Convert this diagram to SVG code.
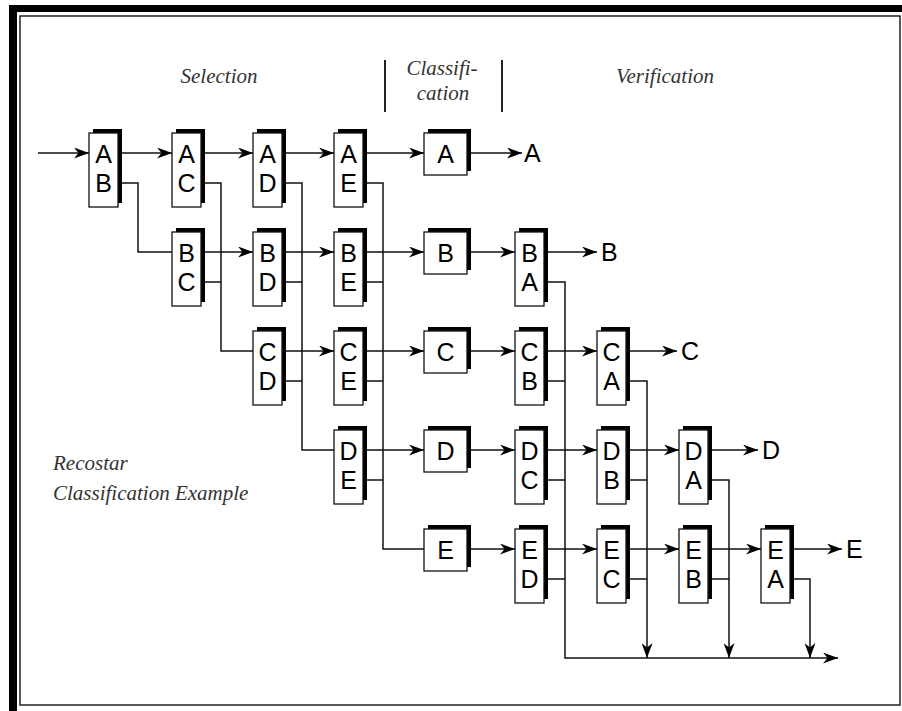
<svg xmlns="http://www.w3.org/2000/svg" width="902" height="711" viewBox="0 0 902 711">
<style>
.bk{fill:#000}
.fr{fill:#fff;stroke:#111;stroke-width:1.3}
.lt{font-family:"Liberation Sans",Arial,sans-serif;font-size:25px;fill:#000;text-anchor:middle}
.lb{font-family:"Liberation Sans",Arial,sans-serif;font-size:25px;fill:#000}
.hd{font-family:"Liberation Serif","Times New Roman",serif;font-style:italic;font-size:21px;fill:#333}
.c{fill:none;stroke:#111;stroke-width:1.5}
.a{marker-end:url(#ah)}
</style>
<defs>
<marker id="ah" markerUnits="userSpaceOnUse" markerWidth="15" markerHeight="11" refX="15" refY="5.5" orient="auto" viewBox="0 0 15 11">
<path d="M0,0 L15,5.5 L0,11 L4.5,5.5 z" fill="#000"/>
</marker>
</defs>
<rect x="0" y="0" width="902" height="711" fill="#fff"/>
<g id="frame">
<rect x="9" y="5" width="893" height="7" fill="#000"/>
<rect x="9" y="5" width="8" height="706" fill="#000"/>
<rect x="20" y="16" width="880" height="689" fill="none" stroke="#222" stroke-width="1.5"/>
</g>
<g id="headers">
<text class="hd" x="219" y="83" text-anchor="middle">Selection</text>
<text class="hd" x="442" y="75" text-anchor="middle">Classifi-</text>
<text class="hd" x="443" y="100" text-anchor="middle">cation</text>
<text class="hd" x="665" y="83" text-anchor="middle">Verification</text>
<line x1="385" y1="60" x2="385" y2="112" stroke="#222" stroke-width="2"/>
<line x1="502" y1="60" x2="502" y2="112" stroke="#222" stroke-width="2"/>
<text class="hd" x="53" y="470">Recostar</text>
<text class="hd" x="53" y="500">Classification Example</text>
</g>
<g id="connectors">
<path class="c a" d="M38,153 H89"/>
<path class="c a" d="M118,153 H172"/>
<path class="c a" d="M201,153 H253"/>
<path class="c a" d="M282,153 H334"/>
<path class="c a" d="M363,153 H424"/>
<path class="c a" d="M467,153 H522"/>
<path class="c a" d="M201,252 H253"/>
<path class="c a" d="M282,252 H334"/>
<path class="c a" d="M363,252 H424"/>
<path class="c a" d="M467,252 H515"/>
<path class="c a" d="M544,252 H597"/>
<path class="c a" d="M282,351 H334"/>
<path class="c a" d="M363,351 H424"/>
<path class="c a" d="M467,351 H515"/>
<path class="c a" d="M544,351 H597"/>
<path class="c a" d="M626,351 H677"/>
<path class="c a" d="M363,450 H424"/>
<path class="c a" d="M467,450 H515"/>
<path class="c a" d="M544,450 H597"/>
<path class="c a" d="M626,450 H679"/>
<path class="c a" d="M708,450 H758"/>
<path class="c a" d="M467,549 H515"/>
<path class="c a" d="M544,549 H597"/>
<path class="c a" d="M626,549 H679"/>
<path class="c a" d="M708,549 H761"/>
<path class="c a" d="M790,549 H842"/>
<path class="c a" d="M626,381 H647 V658"/>
<path class="c a" d="M708,480 H729 V658"/>
<path class="c a" d="M790,579 H810 V658"/>
<path class="c a" d="M544,282 H565 V658 H838"/>
<path class="c" d="M118,183 H138 V252 H172"/>
<path class="c" d="M201,183 H221 V351 H253"/>
<path class="c" d="M201,282 H221"/>
<path class="c" d="M282,183 H302 V450 H334"/>
<path class="c" d="M282,282 H302"/>
<path class="c" d="M282,381 H302"/>
<path class="c" d="M363,183 H383 V549 H424"/>
<path class="c" d="M363,282 H383"/>
<path class="c" d="M363,381 H383"/>
<path class="c" d="M363,480 H383"/>
<path class="c" d="M544,381 H565"/>
<path class="c" d="M544,480 H565"/>
<path class="c" d="M544,579 H565"/>
<path class="c" d="M626,480 H647"/>
<path class="c" d="M626,579 H647"/>
<path class="c" d="M708,579 H729"/>
</g>
<g id="outputs">
<text class="lb" x="524" y="162">A</text>
<text class="lb" x="601" y="261">B</text>
<text class="lb" x="681" y="360">C</text>
<text class="lb" x="762" y="459">D</text>
<text class="lb" x="846" y="558">E</text>
</g>
<g id="n-AB"><rect class="bk" x="93" y="129" width="29" height="74"/><rect class="fr" x="89" y="133" width="29" height="74"/><text class="lt" x="103.5" y="163">A</text><text class="lt" x="103.5" y="192">B</text></g>
<g id="n-AC"><rect class="bk" x="176" y="129" width="29" height="74"/><rect class="fr" x="172" y="133" width="29" height="74"/><text class="lt" x="186.5" y="163">A</text><text class="lt" x="186.5" y="192">C</text></g>
<g id="n-AD"><rect class="bk" x="257" y="129" width="29" height="74"/><rect class="fr" x="253" y="133" width="29" height="74"/><text class="lt" x="267.5" y="163">A</text><text class="lt" x="267.5" y="192">D</text></g>
<g id="n-AE"><rect class="bk" x="338" y="129" width="29" height="74"/><rect class="fr" x="334" y="133" width="29" height="74"/><text class="lt" x="348.5" y="163">A</text><text class="lt" x="348.5" y="192">E</text></g>
<g id="n-A"><rect class="bk" x="428" y="129" width="43" height="42"/><rect class="fr" x="424" y="133" width="43" height="42"/><text class="lt" x="445.5" y="163">A</text></g>
<g id="n-BC"><rect class="bk" x="176" y="228" width="29" height="74"/><rect class="fr" x="172" y="232" width="29" height="74"/><text class="lt" x="186.5" y="262">B</text><text class="lt" x="186.5" y="291">C</text></g>
<g id="n-BD"><rect class="bk" x="257" y="228" width="29" height="74"/><rect class="fr" x="253" y="232" width="29" height="74"/><text class="lt" x="267.5" y="262">B</text><text class="lt" x="267.5" y="291">D</text></g>
<g id="n-BE"><rect class="bk" x="338" y="228" width="29" height="74"/><rect class="fr" x="334" y="232" width="29" height="74"/><text class="lt" x="348.5" y="262">B</text><text class="lt" x="348.5" y="291">E</text></g>
<g id="n-B"><rect class="bk" x="428" y="228" width="43" height="42"/><rect class="fr" x="424" y="232" width="43" height="42"/><text class="lt" x="445.5" y="262">B</text></g>
<g id="n-BA"><rect class="bk" x="519" y="228" width="29" height="74"/><rect class="fr" x="515" y="232" width="29" height="74"/><text class="lt" x="529.5" y="262">B</text><text class="lt" x="529.5" y="291">A</text></g>
<g id="n-CD"><rect class="bk" x="257" y="327" width="29" height="74"/><rect class="fr" x="253" y="331" width="29" height="74"/><text class="lt" x="267.5" y="361">C</text><text class="lt" x="267.5" y="390">D</text></g>
<g id="n-CE"><rect class="bk" x="338" y="327" width="29" height="74"/><rect class="fr" x="334" y="331" width="29" height="74"/><text class="lt" x="348.5" y="361">C</text><text class="lt" x="348.5" y="390">E</text></g>
<g id="n-C"><rect class="bk" x="428" y="327" width="43" height="42"/><rect class="fr" x="424" y="331" width="43" height="42"/><text class="lt" x="445.5" y="361">C</text></g>
<g id="n-CB"><rect class="bk" x="519" y="327" width="29" height="74"/><rect class="fr" x="515" y="331" width="29" height="74"/><text class="lt" x="529.5" y="361">C</text><text class="lt" x="529.5" y="390">B</text></g>
<g id="n-CA"><rect class="bk" x="601" y="327" width="29" height="74"/><rect class="fr" x="597" y="331" width="29" height="74"/><text class="lt" x="611.5" y="361">C</text><text class="lt" x="611.5" y="390">A</text></g>
<g id="n-DE"><rect class="bk" x="338" y="426" width="29" height="74"/><rect class="fr" x="334" y="430" width="29" height="74"/><text class="lt" x="348.5" y="460">D</text><text class="lt" x="348.5" y="489">E</text></g>
<g id="n-D"><rect class="bk" x="428" y="426" width="43" height="42"/><rect class="fr" x="424" y="430" width="43" height="42"/><text class="lt" x="445.5" y="460">D</text></g>
<g id="n-DC"><rect class="bk" x="519" y="426" width="29" height="74"/><rect class="fr" x="515" y="430" width="29" height="74"/><text class="lt" x="529.5" y="460">D</text><text class="lt" x="529.5" y="489">C</text></g>
<g id="n-DB"><rect class="bk" x="601" y="426" width="29" height="74"/><rect class="fr" x="597" y="430" width="29" height="74"/><text class="lt" x="611.5" y="460">D</text><text class="lt" x="611.5" y="489">B</text></g>
<g id="n-DA"><rect class="bk" x="683" y="426" width="29" height="74"/><rect class="fr" x="679" y="430" width="29" height="74"/><text class="lt" x="693.5" y="460">D</text><text class="lt" x="693.5" y="489">A</text></g>
<g id="n-E"><rect class="bk" x="428" y="525" width="43" height="42"/><rect class="fr" x="424" y="529" width="43" height="42"/><text class="lt" x="445.5" y="559">E</text></g>
<g id="n-ED"><rect class="bk" x="519" y="525" width="29" height="74"/><rect class="fr" x="515" y="529" width="29" height="74"/><text class="lt" x="529.5" y="559">E</text><text class="lt" x="529.5" y="588">D</text></g>
<g id="n-EC"><rect class="bk" x="601" y="525" width="29" height="74"/><rect class="fr" x="597" y="529" width="29" height="74"/><text class="lt" x="611.5" y="559">E</text><text class="lt" x="611.5" y="588">C</text></g>
<g id="n-EB"><rect class="bk" x="683" y="525" width="29" height="74"/><rect class="fr" x="679" y="529" width="29" height="74"/><text class="lt" x="693.5" y="559">E</text><text class="lt" x="693.5" y="588">B</text></g>
<g id="n-EA"><rect class="bk" x="765" y="525" width="29" height="74"/><rect class="fr" x="761" y="529" width="29" height="74"/><text class="lt" x="775.5" y="559">E</text><text class="lt" x="775.5" y="588">A</text></g>
</svg>
